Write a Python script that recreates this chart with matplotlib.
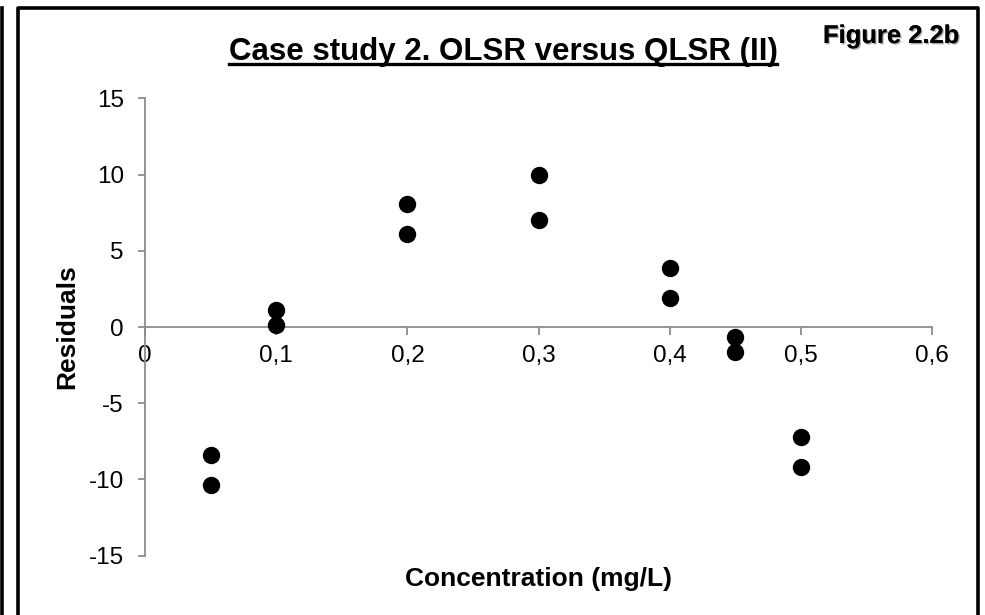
import matplotlib.pyplot as plt
from matplotlib.lines import Line2D
from matplotlib.ticker import FuncFormatter
import matplotlib.patheffects as pe

plt.rcParams['font.family'] = ['Liberation Sans', 'DejaVu Sans']
plt.rcParams['axes.unicode_minus'] = False

# data (two replicates per concentration)
concentration = [0.05, 0.05, 0.1, 0.1, 0.2, 0.2, 0.3, 0.3, 0.4, 0.4, 0.45, 0.45, 0.5, 0.5]
residuals = [-8.4, -10.35, 1.1, 0.1, 8.1, 6.1, 10.0, 7.0, 3.9, 1.9, -0.65, -1.65, -7.2, -9.15]

x_ticks = [0, 0.1, 0.2, 0.3, 0.4, 0.5, 0.6]
y_ticks = [-15, -10, -5, 0, 5, 10, 15]

W, H = 985, 615
fig = plt.figure(figsize=(W / 100, H / 100), dpi=100)

# axes box in pixels: x 145..932, y 98..556
ax = fig.add_axes([145.3 / W, 1 - 555.7 / H, (931.7 - 145.3) / W, (555.7 - 98.3) / H])

axis_grey = '#8c8c8c'

ax.plot(concentration, residuals, 'o', color='black', markersize=11.5, zorder=5, clip_on=False)

ax.set_xlim(0, 0.6)
ax.set_ylim(-15, 15)
ax.set_xticks(x_ticks)
ax.set_yticks(y_ticks)
ax.xaxis.set_major_formatter(FuncFormatter(lambda v, p: ('%g' % round(v, 2)).replace('.', ',')))

ax.spines['top'].set_visible(False)
ax.spines['right'].set_visible(False)
ax.spines['bottom'].set_position(('data', 0))
for s in ['left', 'bottom']:
    ax.spines[s].set_color(axis_grey)
    ax.spines[s].set_linewidth(1.3)

ax.tick_params(axis='both', direction='out', color=axis_grey, width=1.3, labelsize=17.5, labelcolor='black')
ax.tick_params(axis='y', length=5, pad=10.5)
ax.tick_params(axis='x', length=6, pad=7)

ax.set_xlabel('Concentration (mg/L)', fontsize=19, fontweight='bold')
ax.xaxis.set_label_coords(0.5, -0.024)
ax.set_ylabel('Residuals', fontsize=19, fontweight='bold')
ax.yaxis.set_label_coords(-0.084, 0.5)

# title with underline
title = fig.text(503 / W, 1 - 60 / H, 'Case study 2. OLSR versus QLSR (II)', ha='center', va='baseline',
                 fontsize=22.5, fontweight='bold')
fig.canvas.draw()
bb = title.get_window_extent()
uy = (H - 63.5) / H
fig.add_artist(Line2D([bb.x0 / W, bb.x1 / W], [uy, uy], color='black', lw=2.4))

fig.text(959 / W, 1 - 43 / H, 'Figure 2.2b', ha='right', va='baseline', fontsize=18.4, fontweight='bold',
         path_effects=[pe.withSimplePatchShadow(offset=(1, -1), shadow_rgbFace='#999999', alpha=0.8), pe.Normal()])

# chart frame and a bit of the neighbouring one
fig.add_artist(Line2D([17.5 / W, 17.5 / W, 977.5 / W, 977.5 / W],
                      [0, 1 - 7.5 / H, 1 - 7.5 / H, 0], color='black', lw=2.6))
fig.add_artist(Line2D([1.5 / W, 1.5 / W], [0, 1 - 8 / H], color='black', lw=2.6))

plt.savefig('out.png', dpi=100)
